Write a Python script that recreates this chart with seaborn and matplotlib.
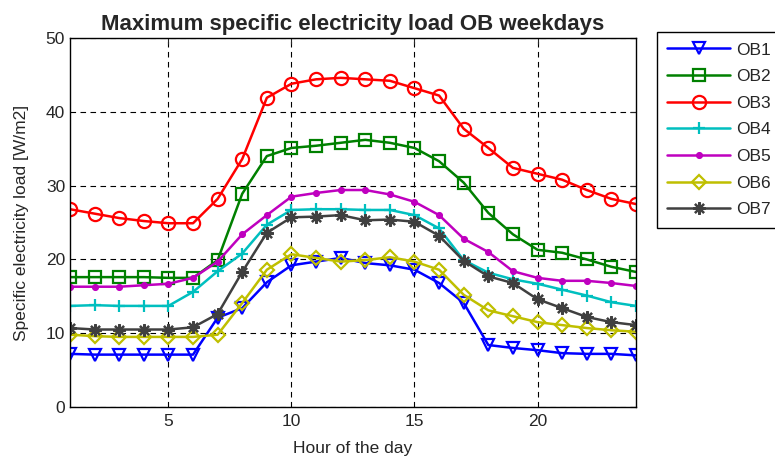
import numpy as np
import pandas as pd
import seaborn as sns
import matplotlib
matplotlib.use("Agg")
import matplotlib.pyplot as plt

hours = list(range(1, 25))

ob1 = [7.2, 7.1, 7.1, 7.1, 7.1, 7.1, 12.1, 13.4, 16.9, 19.2, 19.7, 20.2,
       19.5, 19.2, 18.6, 16.8, 14.1, 8.4, 8.0, 7.7, 7.3, 7.2, 7.2, 7.0]
ob2 = [17.6, 17.6, 17.6, 17.6, 17.5, 17.5, 19.9, 28.9, 34.0, 35.1, 35.4, 35.8,
       36.2, 35.8, 35.1, 33.3, 30.4, 26.3, 23.4, 21.3, 20.9, 20.0, 19.0, 18.3]
ob3 = [26.8, 26.2, 25.6, 25.2, 24.9, 24.9, 28.2, 33.6, 41.9, 43.8, 44.4, 44.6,
       44.4, 44.2, 43.2, 42.2, 37.7, 35.1, 32.4, 31.6, 30.8, 29.4, 28.2, 27.5]
ob4 = [13.7, 13.8, 13.7, 13.7, 13.7, 15.6, 18.4, 20.8, 24.7, 26.7, 26.8, 26.8,
       26.7, 26.7, 26.0, 24.2, 19.9, 18.2, 17.3, 16.7, 15.9, 15.1, 14.2, 13.7]
ob5 = [16.3, 16.3, 16.3, 16.5, 16.7, 17.5, 19.7, 23.4, 26.0, 28.5, 29.0, 29.4,
       29.4, 28.8, 27.8, 26.0, 22.8, 21.0, 18.4, 17.5, 17.1, 17.1, 16.8, 16.4]
ob6 = [9.8, 9.6, 9.5, 9.5, 9.5, 9.5, 9.8, 14.1, 18.6, 20.7, 20.2, 19.7,
       19.9, 20.3, 19.7, 18.6, 15.2, 13.1, 12.3, 11.5, 11.1, 10.7, 10.4, 10.2]
ob7 = [10.7, 10.5, 10.5, 10.5, 10.5, 10.8, 12.6, 18.3, 23.6, 25.7, 25.8, 26.0,
       25.3, 25.4, 25.1, 23.2, 19.8, 17.7, 16.8, 14.6, 13.4, 12.2, 11.5, 11.1]

names = ["OB1", "OB2", "OB3", "OB4", "OB5", "OB6", "OB7"]
series = [ob1, ob2, ob3, ob4, ob5, ob6, ob7]

# matlab-ish colours and markers
colors = ["#0000ff", "#008000", "#ff0000", "#00bfbf", "#bf00bf", "#bfbf00", "#404040"]
markers = ["v", "s", "o", "+", ".", "D", (8, 2, 0)]
msizes = [8.5, 8, 9.5, 9, 7, 7, 9]

df = pd.DataFrame({"hour": hours * len(names),
                   "load": sum(series, []),
                   "building": np.repeat(names, len(hours))})

sns.set_style("white")
plt.rcParams['font.family'] = ['Liberation Sans', 'DejaVu Sans']

fig = plt.figure(figsize=(7.75, 4.61), dpi=100)
ax = fig.add_axes([0.0903, 0.1171, 0.7303, 0.8005])

for name, c, m, s in zip(names, colors, markers, msizes):
    sub = df[df["building"] == name]
    fill = c if m in ["."] else "none"
    sns.lineplot(data=sub, x="hour", y="load", ax=ax, color=c, marker=m,
                 markersize=s, markerfacecolor=fill, markeredgecolor=c,
                 markeredgewidth=1.6, linewidth=1.8, label=name)

ax.set_xlim(1, 24)
ax.set_ylim(0, 50)
ax.set_xticks([5, 10, 15, 20])
ax.set_yticks(range(0, 51, 10))
ax.tick_params(direction="in", labelsize=12.5, length=4, top=True, right=True)
ax.tick_params(axis="x", pad=5)
ax.grid(True, color="black", linestyle=(0, (5, 4)), linewidth=0.8)
for sp in ax.spines.values():
    sp.set_color("black")
    sp.set_linewidth(1)

ax.set_xlabel("Hour of the day", fontsize=12.5, labelpad=9)
ax.set_ylabel("Specific electricity load [W/m2]", fontsize=12.5, labelpad=12)
ax.set_title("Maximum specific electricity load OB weekdays", fontsize=16,
             fontweight="bold", pad=6)

leg = ax.legend(loc="upper left", bbox_to_anchor=(657 / 775, 429 / 461),
                bbox_transform=fig.transFigure, fontsize=12.5, fancybox=False,
                framealpha=1, edgecolor="black", handlelength=3.6,
                handletextpad=0.35, borderpad=0.6, labelspacing=0.66,
                borderaxespad=0)
leg.get_frame().set_linewidth(1)

fig.savefig("out.png", dpi=100)
